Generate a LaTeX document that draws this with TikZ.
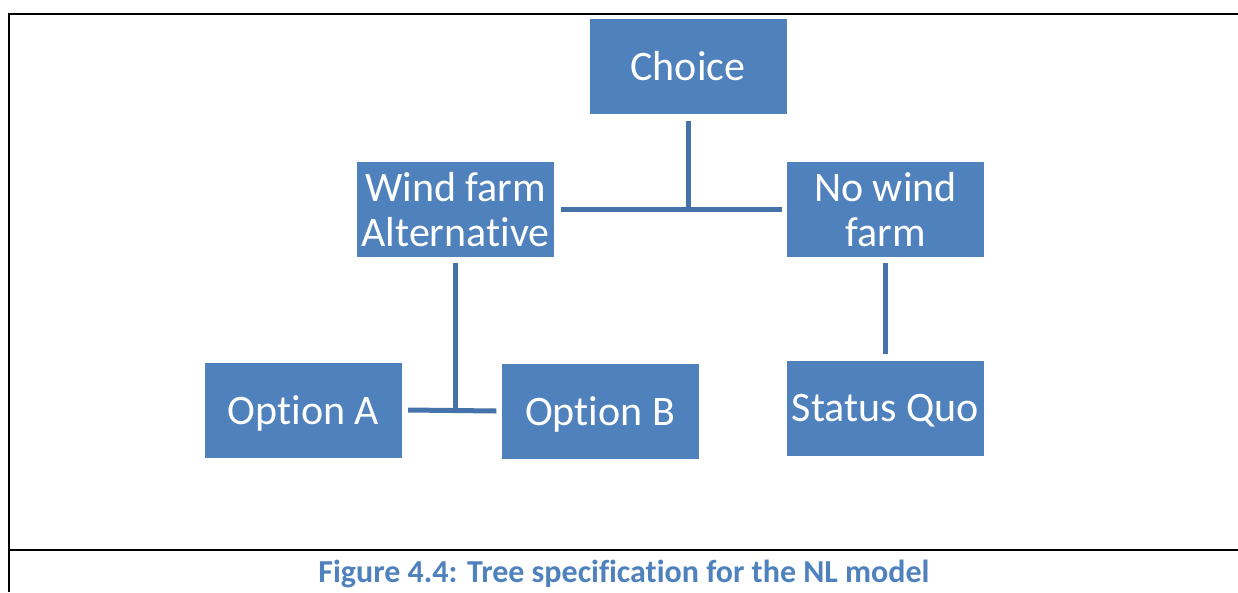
\documentclass[tikz,border=0pt]{standalone}
\usepackage{fontspec}
\setmainfont{Carlito}[Ligatures=NoCommon]
\definecolor{boxblue}{HTML}{4F81BD}
\definecolor{linkblue}{HTML}{4672AA}
\definecolor{capblue}{HTML}{4F81BD}
\newcommand{\lowered}[1]{\raisebox{-3pt}[\height][\depth]{#1}}
\tikzset{
  treebox/.style={fill=boxblue, draw=none, minimum width=197pt, minimum height=95pt,
    inner sep=0pt, text=white, align=center, font=\fontsize{42}{45}\selectfont},
  link/.style={draw=linkblue, line width=5pt},
  frame/.style={draw=black, line width=2pt}
}
\begin{document}
\begin{tikzpicture}[x=1pt, y=-1pt]
\useasboundingbox (0,0) rectangle (1238,592);
% outer frame and caption rule
\draw[frame] (8,14) -- (1238,14);
\draw[frame] (9,14) -- (9,592);
\draw[black, line width=1.3pt] (9,550) -- (1238,550);

% tree nodes
\node[treebox] (choice) at (688,66) {Choice};
\node[treebox] (wind) at (455.5,209.5) {Wind farm\\Alternative};
\node[treebox] (nowind) at (885.5,209.5) {No wind\\farm};
\node[treebox] (optA) at (303.5,410) {\lowered{Option A}};
\node[treebox] (optB) at (600,411) {\lowered{Option B}};
\node[treebox] (sq) at (885.5,408) {\lowered{Status Quo}};

% connectors
\coordinate (j1) at (choice.south |- wind.east);
\draw[link] ([yshift=-7pt]choice.south) -- (j1);
\draw[link] ([xshift=7pt]wind.east) -- ([xshift=-5pt]nowind.west);
\coordinate (j2) at (wind.south |- optA.east);
\draw[link] ([yshift=-6pt]wind.south) -- (j2);
\draw[link] ([xshift=6pt]optA.east) -- ([xshift=-5pt]optB.west);
\draw[link] ([yshift=-6pt]nowind.south) -- ([yshift=6pt]sq.north);

% caption
\node[text=capblue, font=\fontsize{32}{34}\selectfont\bfseries, anchor=base] (cap) at (624,582)
  {Figure 4.4: Tree specification for the NL model};
\end{tikzpicture}
\end{document}
